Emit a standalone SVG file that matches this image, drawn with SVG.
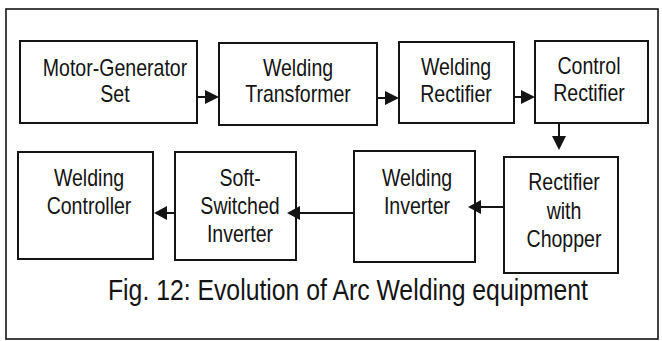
<svg xmlns="http://www.w3.org/2000/svg" width="662" height="341" viewBox="0 0 662 341">
<style>
.box{fill:#fff;stroke:#141414;stroke-width:2}
.t{font-family:"Liberation Sans",Arial,sans-serif;font-size:23px;fill:#141414;text-anchor:middle}
.cap{font-family:"Liberation Sans",Arial,sans-serif;font-size:30px;fill:#141414;text-anchor:middle}
.ln{stroke:#141414;stroke-width:2;fill:none}
.hd{fill:#141414}
</style>
<rect x="0" y="0" width="662" height="341" fill="#fff"/>
<rect x="6" y="9" width="652" height="330" fill="none" stroke="#141414" stroke-width="1.6"/>
<g id="n1"><rect class="box" x="20" y="41" width="177" height="82"/>
<g transform="translate(115 0) scale(0.85 1)"><text class="t" x="0" y="76">Motor-Generator</text><text class="t" x="0" y="102">Set</text></g></g>
<g id="n2"><rect class="box" x="219" y="43" width="158" height="82"/>
<g transform="translate(298 0) scale(0.85 1)"><text class="t" x="0" y="76">Welding</text><text class="t" x="0" y="102">Transformer</text></g></g>
<g id="n3"><rect class="box" x="399" y="42" width="115" height="81"/>
<g transform="translate(456 0) scale(0.85 1)"><text class="t" x="0" y="75">Welding</text><text class="t" x="0" y="102">Rectifier</text></g></g>
<g id="n4"><rect class="box" x="535" y="41" width="113" height="82"/>
<g transform="translate(589 0) scale(0.85 1)"><text class="t" x="0" y="74">Control</text><text class="t" x="0" y="101">Rectifier</text></g></g>
<g id="n5"><rect class="box" x="504" y="157" width="114" height="116"/>
<g transform="translate(564 0) scale(0.85 1)"><text class="t" x="0" y="190">Rectifier</text><text class="t" x="0" y="219">with</text><text class="t" x="0" y="247">Chopper</text></g></g>
<g id="n6"><rect class="box" x="354" y="151" width="121" height="111"/>
<g transform="translate(417 0) scale(0.85 1)"><text class="t" x="0" y="186">Welding</text><text class="t" x="0" y="214">Inverter</text></g></g>
<g id="n7"><rect class="box" x="175" y="152" width="121" height="108"/>
<g transform="translate(240 0) scale(0.85 1)"><text class="t" x="0" y="186">Soft-</text><text class="t" x="0" y="214">Switched</text><text class="t" x="0" y="242">Inverter</text></g></g>
<g id="n8"><rect class="box" x="18" y="152" width="135" height="107"/>
<g transform="translate(89 0) scale(0.85 1)"><text class="t" x="0" y="186">Welding</text><text class="t" x="0" y="214">Controller</text></g></g>
<g id="connectors">
<line class="ln" x1="197" y1="97" x2="206" y2="97"/><polygon class="hd" points="205,90 219,97 205,104"/>
<line class="ln" x1="377" y1="98" x2="386" y2="98"/><polygon class="hd" points="385,91 399,98 385,105"/>
<line class="ln" x1="514" y1="97" x2="522" y2="97"/><polygon class="hd" points="521,90 535,97 521,104"/>
<line class="ln" x1="559" y1="123" x2="559" y2="137"/><polygon class="hd" points="552,136 566,136 559,150"/>
<line class="ln" x1="504" y1="207" x2="480" y2="207"/><polygon class="hd" points="481,200 481,214 468,207"/>
<line class="ln" x1="354" y1="213" x2="299" y2="213"/><polygon class="hd" points="300,206 300,220 287,213"/>
<line class="ln" x1="175" y1="213" x2="166" y2="213"/><polygon class="hd" points="167,206 167,220 154,213"/>
</g>
<g transform="translate(348 0) scale(0.826 1)"><text class="cap" x="0" y="300">Fig. 12: Evolution of Arc Welding equipment</text></g>
</svg>
